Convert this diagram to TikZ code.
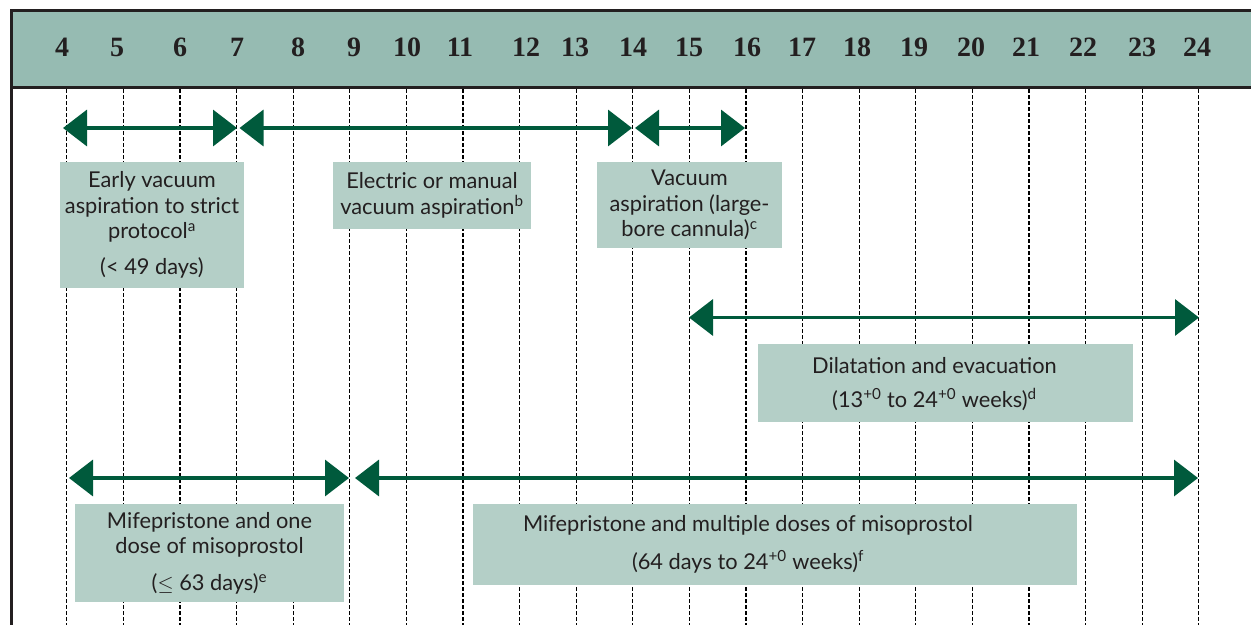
\documentclass[tikz,border=0pt]{standalone}
\usepackage{fontspec}
\usetikzlibrary{arrows.meta}
\newfontfamily\notefamily{Lato}
\newfontfamily\weekfamily{Liberation Serif}
\definecolor{headfill}{HTML}{96BBB2}
\definecolor{boxfill}{HTML}{B4CFC7}
\definecolor{spangreen}{HTML}{005A3C}
\definecolor{ink}{HTML}{231F20}
\newcommand{\notefont}{\notefamily\fontsize{21.8}{25.5}\selectfont}
\tikzset{
  frame/.style={draw=ink, line width=3pt},
  week/.style={font=\weekfamily\bfseries\fontsize{28}{30}\selectfont, text=ink, inner sep=0pt},
  gridline/.style={draw=black, line width=1.2pt, dash pattern=on 4pt off 2pt},
  span/.style={{Triangle[length=24pt,width=36pt]}-{Triangle[length=24pt,width=36pt]}, draw=spangreen, line width=3.5pt},
  box/.style={fill=boxfill, inner sep=0pt},
  note/.style={font=\notefont, text=ink, align=center, inner sep=0pt}
}

\begin{document}
\begin{tikzpicture}[x=1pt,y=-1pt]
  \useasboundingbox (0,0) rectangle (1251,625);
  % header band
  \fill[headfill] (11.5,10.5) rectangle (1251,87.5);
  \draw[frame] (1251,10.5) -- (11.5,10.5) -- (11.5,625);
  \draw[frame] (11.5,87.5) -- (1251,87.5);
  % weeks and grid
  \foreach \w/\lx in {4/62,5/117,6/180,7/237,8/298,9/354,10/407,11/460,12/526,13/575,14/633,15/689,16/747,17/802,18/857,19/914,20/971,21/1026,22/1083,23/1142,24/1197} {
    \pgfmathsetmacro\xw{66.7+(\w-4)*56.6}
    \node[week] (wk\w) at (\lx,47.5) {\w};
    \coordinate (top\w) at (\xw,89);
    \coordinate (bot\w) at (\xw,625);
    \draw[gridline] (top\w) -- (bot\w);
  }
  % boxes
  \node[box, note, minimum width=184pt, minimum height=126pt] (early) at (152,225)
    {Early vacuum\\aspiration to strict\\protocol\textsuperscript{a}\\[10pt](< 49 days)};
  \node[box, note, minimum width=198pt, minimum height=67pt] (manual) at (432,195.5)
    {Electric or manual\\vacuum aspiration\textsuperscript{b}};
  \node[box, note, minimum width=185pt, minimum height=86pt] (cannula) at (689.5,205)
    {Vacuum\\aspiration (large-\\bore cannula)\textsuperscript{c}};
  \node[box, minimum width=375pt, minimum height=78pt] (dilat) at (945.5,383) {};
  \node[note] (dilattext) at ([xshift=-11pt,yshift=-1pt]dilat.center)
    {Dilatation and evacuation\\[8pt](13\textsuperscript{+0} to 24\textsuperscript{+0} weeks)\textsuperscript{d}};
  \node[box, note, minimum width=269pt, minimum height=98pt] (onedose) at (209.5,553)
    {Mifepristone and one\\dose of misoprostol\\[11pt]($\leq$ 63 days)\textsuperscript{e}};
  \node[box, minimum width=604pt, minimum height=81pt] (multi) at (775,544.5) {};
  \node[note] (multitext) at ([xshift=-27pt]multi.center)
    {Mifepristone and multiple doses of misoprostol\\[12pt](64 days to 24\textsuperscript{+0} weeks)\textsuperscript{f}};
  % arrows
  \coordinate (earlyL) at (63,128);
  \coordinate (earlyR) at (237,128);
  \coordinate (manualL) at (239.5,128);
  \coordinate (manualR) at (632,128);
  \coordinate (cannulaL) at (635,128);
  \coordinate (cannulaR) at (745,128);
  \coordinate (dilatL) at (689,317.5);
  \coordinate (dilatR) at (1199,317.5);
  \coordinate (onedoseL) at (69,478);
  \coordinate (onedoseR) at (349,478);
  \coordinate (multiL) at (355,478);
  \coordinate (multiR) at (1198,478);
  \draw[span] (earlyL) -- (earlyR);
  \draw[span] (manualL) -- (manualR);
  \draw[span] (cannulaL) -- (cannulaR);
  \draw[span] (dilatL) -- (dilatR);
  \draw[span] (onedoseL) -- (onedoseR);
  \draw[span] (multiL) -- (multiR);
\end{tikzpicture}
\end{document}
